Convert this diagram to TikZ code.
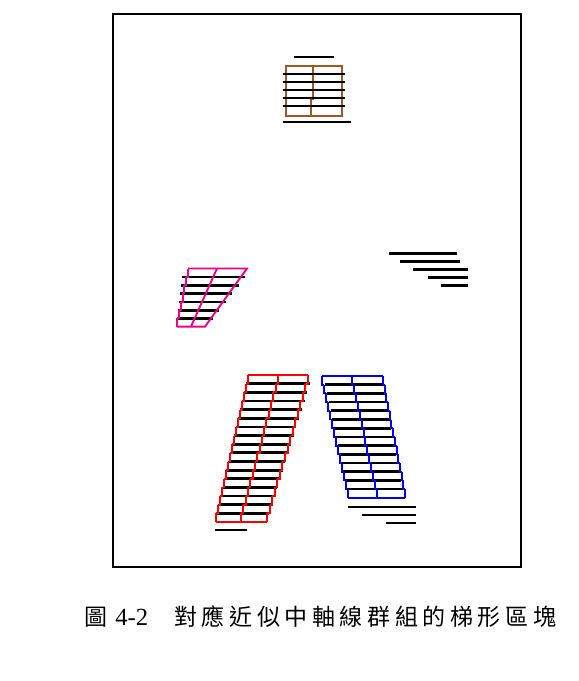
\documentclass[tikz,border=0pt]{standalone}
\usepackage{fontspec}
\setmainfont{Liberation Serif}
\newfontfamily\cjkA{Noto Sans CJK TC}
\newfontfamily\cjkS[LetterSpace=20]{Noto Sans CJK TC}
\definecolor{brn}{RGB}{165,85,30}
\tikzset{
  blk/.style={line width=2.05pt, black},
  edge/.style={line width=1.4pt, line join=miter},
  frame/.style={line width=1.5pt, black},
  captxt/.style={inner sep=0pt, anchor=base west, font=\fontsize{17.25}{20}\selectfont}
}
% one stepped edge: y0,h,n,X0,X1
\def\edgeparse#1,#2,#3,#4,#5\relax{\def\ey{#1}\def\eh{#2}\def\en{#3}\def\exa{#4}\def\exb{#5}}
\newcommand\stepedge[2]{%
  \edgeparse#2\relax
  \pgfmathtruncatemacro\enm{\en-1}%
  \foreach \k in {0,...,\enm}{%
    \pgfmathsetmacro\ya{\ey+\k*\eh}%
    \pgfmathsetmacro\yb{\ey+(\k+1)*\eh}%
    \pgfmathsetmacro\xa{round(\exa+(\exb-\exa)*\k/\enm)}%
    \pgfmathsetmacro\xb{round(\exa+(\exb-\exa)*min(\k+1,\enm)/\enm)}%
    \draw[#1] (\xa,\ya) -- (\xa,\yb) -- (\xb,\yb);
  }}
% black lines: y1,h,count,La,Lb,Ra,Rb
\def\lineparse#1,#2,#3,#4,#5,#6,#7\relax{\def\ly{#1}\def\lh{#2}\def\lc{#3}\def\lla{#4}\def\llb{#5}\def\lra{#6}\def\lrb{#7}}
\newcommand\blines[1]{%
  \lineparse#1\relax
  \pgfmathtruncatemacro\lcm{\lc-1}%
  \foreach \k in {0,...,\lcm}{%
    \pgfmathsetmacro\yy{\ly+\k*\lh}%
    \pgfmathsetmacro\xa{\lla+(\llb-\lla)*\k/\lcm}%
    \pgfmathsetmacro\xb{\lra+(\lrb-\lra)*\k/\lcm}%
    \draw[blk] (\xa,\yy) -- (\xb,\yy);
  }}
\begin{document}
\begin{tikzpicture}[x=0.75pt,y=-0.75pt]
\useasboundingbox (0,0) rectangle (578,681);
\fill[white] (0,0) rectangle (578,681);
% frame
\draw[frame] (113,14) rectangle (521,567);

% ---- brown group ----
\draw[blk] (294,57) -- (334,57);
\draw[edge, brn] (286,66) rectangle (342,116);
\draw[edge, brn] (313,66) -- (313,99) -- (311,99) -- (311,116);
\blines{74,8,5,283,283,345,345}
\draw[blk] (283,122) -- (351,122);

% ---- magenta group ----
\blines{277,8.3,6,182,177,245,213}
\draw[edge, magenta] (188,268.5) -- (247,268.5) -- (205,326.6) -- (177,326.6);
\stepedge{edge, magenta}{268.5,8.3,7,188,177}
\draw[edge, magenta] (217,268.5) -- (191,326.6);

% ---- right line group ----
\draw[blk] (389,253.3) -- (457,253.3);
\draw[blk] (400,261.3) -- (460,261.3);
\draw[blk] (413,269.3) -- (468,269.3);
\draw[blk] (428,277.7) -- (468,277.7);
\draw[blk] (441,285.7) -- (468,285.7);

% ---- red group ----
\blines{383.65,8.65,16,246,217,310,269}
\draw[edge, red] (248,375) -- (308,375);
\draw[edge, red] (216,522) -- (267,522);
\stepedge{edge, red}{375,8.65,17,248,216}
\stepedge{edge, red}{375,8.65,17,278,241}
\stepedge{edge, red}{375,8.65,17,308,267}
\draw[blk] (215,530) -- (247,530);

% ---- blue group ----
\blines{384.7,8.7,13,325,347,383,403}
\draw[edge, blue] (322,376) -- (383,376);
\draw[edge, blue] (348,497.8) -- (405,497.8);
\stepedge{edge, blue}{376,8.7,14,322,348}
\stepedge{edge, blue}{376,8.7,14,352,377}
\stepedge{edge, blue}{376,8.7,14,383,405}
\draw[blk] (348,507) -- (416,507);
\draw[blk] (362,515) -- (416,515);
\draw[blk] (386,523) -- (416,523);

% ---- caption ----
\node[captxt, font=\cjkA\fontsize{17.25}{20}\selectfont] (fig) at (84,625) {圖};
\node[captxt, font=\fontsize{18.5}{20}\selectfont] (num) at (115,625) {4-2};
\node[captxt, font=\cjkS\fontsize{17.25}{20}\selectfont] (cap) at (174,625) {對應近似中軸線群組的梯形區塊};
\end{tikzpicture}
\end{document}
